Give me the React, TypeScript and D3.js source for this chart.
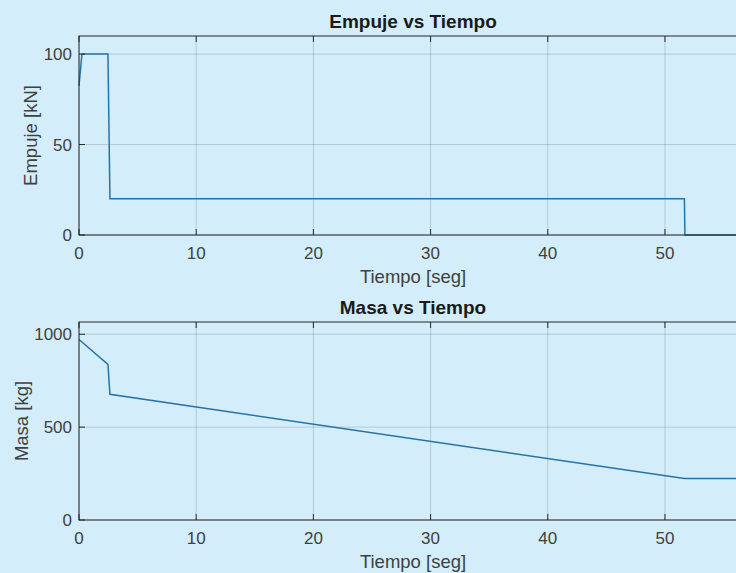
import React from "react";
import * as d3 from "d3";

const thrustT = [0, 0.25, 2.47, 2.64, 51.66, 51.7, 57];
const thrustV = [82.5, 100, 100, 20, 20, 0, 0];
const massT = [0, 2.47, 2.64, 51.66, 57];
const massV = [972, 838, 677, 223, 223];
const xTicks = [0, 10, 20, 30, 40, 50];
const thrustTicks = [0, 50, 100];
const massTicks = [0, 500, 1000];

const W = 736, H = 573;
const left = 79, right = 747;
const BG = "#d3eefa";
const LINE = "#2872a6";
const FONT = "'Liberation Sans', Arial, sans-serif";

function Panel({ top, bottom, ts, vs, yDomain, yTicks, title, ylabel, ylabelX }: any) {
  const x = d3.scaleLinear().domain([0, 57]).range([left, right]);
  const y = d3.scaleLinear().domain(yDomain).range([bottom, top]);
  const pts = ts.map((t: number, i: number) => [t, vs[i]]);
  const line = d3.line<number[]>().x(d => x(d[0])).y(d => y(d[1]))(pts) || "";
  return (
    <g>
      {xTicks.map(t => (
        <line key={"gx" + t} x1={x(t)} x2={x(t)} y1={top} y2={bottom} stroke="#000" strokeOpacity={0.15} />
      ))}
      {yTicks.map((t: number) => (
        <line key={"gy" + t} x1={left} x2={right} y1={y(t)} y2={y(t)} stroke="#000" strokeOpacity={0.15} />
      ))}
      <path d={line} fill="none" stroke={LINE} strokeWidth={1.5} />
      <rect x={left} y={top} width={right - left} height={bottom - top} fill="none" stroke="#262626" strokeWidth={1} />
      {xTicks.map(t => (
        <g key={"tx" + t}>
          <line x1={x(t)} x2={x(t)} y1={bottom} y2={bottom - 6} stroke="#262626" />
          <line x1={x(t)} x2={x(t)} y1={top} y2={top + 6} stroke="#262626" />
          <text x={x(t)} y={bottom + 24} textAnchor="middle" fontSize={17} fill="#404040" fontFamily={FONT}>{t}</text>
        </g>
      ))}
      {yTicks.map((t: number) => (
        <g key={"ty" + t}>
          <line x1={left} x2={left + 6} y1={y(t)} y2={y(t)} stroke="#262626" />
          <text x={left - 7} y={y(t) + 6} textAnchor="end" fontSize={17} fill="#404040" fontFamily={FONT}>{t}</text>
        </g>
      ))}
      <text x={(left + right) / 2} y={top - 8} textAnchor="middle" fontSize={19} fontWeight="bold" fill="#1a1a1a" fontFamily={FONT}>{title}</text>
      <text x={(left + right) / 2} y={bottom + 48} textAnchor="middle" fontSize={18.5} fill="#404040" fontFamily={FONT}>Tiempo [seg]</text>
      <text transform={`translate(${ylabelX},${(top + bottom) / 2}) rotate(-90)`} textAnchor="middle" fontSize={18.5} fill="#404040" fontFamily={FONT}>{ylabel}</text>
    </g>
  );
}

export default function App() {
  return (
    <svg width={W} height={H} style={{ position: "absolute", left: 0, top: 0, display: "block" }}>
      <rect x={0} y={0} width={W} height={H} fill={BG} />
      <Panel top={36} bottom={235} ts={thrustT} vs={thrustV} yDomain={[0, 110]} yTicks={thrustTicks}
        title="Empuje vs Tiempo" ylabel="Empuje [kN]" ylabelX={37} />
      <Panel top={322} bottom={520} ts={massT} vs={massV} yDomain={[0, 1066]} yTicks={massTicks}
        title="Masa vs Tiempo" ylabel="Masa [kg]" ylabelX={28} />
    </svg>
  );
}
